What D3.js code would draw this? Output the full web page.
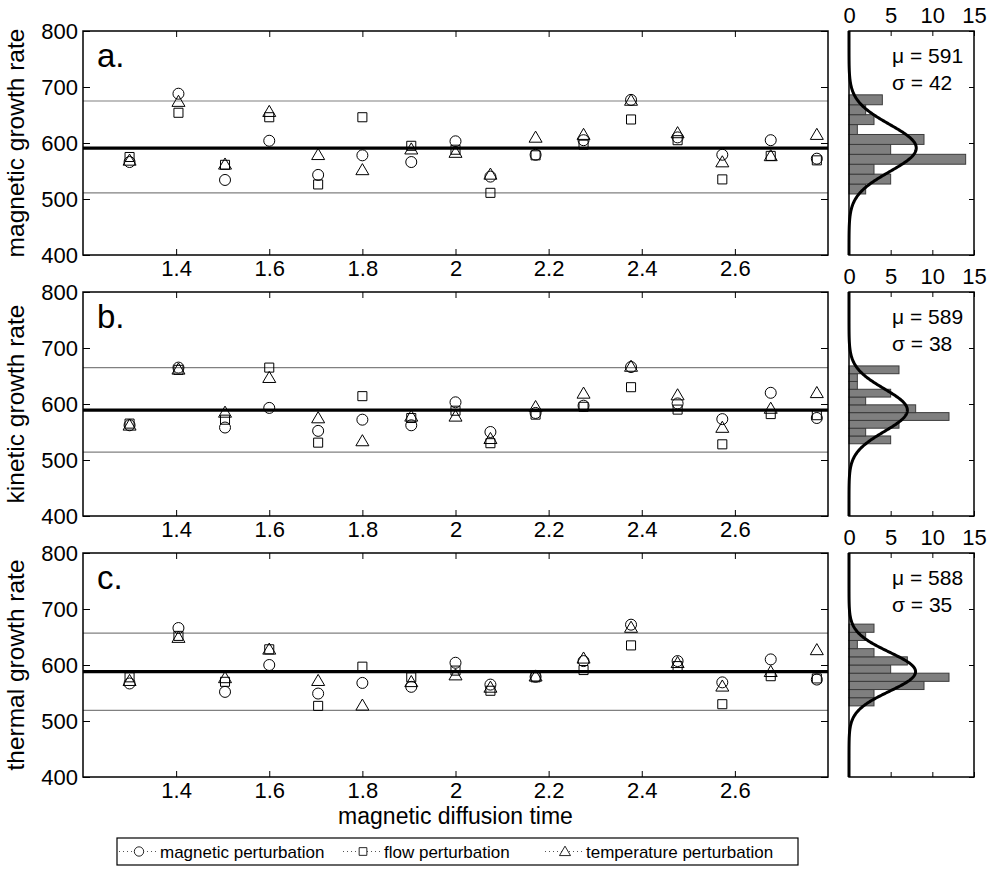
<!DOCTYPE html>
<html>
<head>
<meta charset="utf-8">
<script src="https://cdn.jsdelivr.net/npm/d3@7"></script>
<style>
  body { margin: 0; background: #fff; }
  text { font-family: "Liberation Sans", Arial, Helvetica, sans-serif; fill: #000; }
</style>
</head>
<body>
<svg id="chart" width="990" height="882"></svg>
<script>
// x positions (magnetic diffusion time)
const diffusionTime = [1.3, 1.405, 1.505, 1.6, 1.705, 1.8, 1.905, 2.0, 2.075, 2.172, 2.275, 2.377, 2.477, 2.573, 2.677, 2.776];

// a. magnetic growth rate
const aMagnetic    = [566, 688, 534, 604, 543, 578, 566, 603, 540, 579, 605, 677, 610, 579, 605, 572];
const aFlow        = [575, 654, 561, 646, 526, 646, 595, 588, 511, 578, 597, 642, 605, 535, 577, 569];
const aTemperature = [569, 674, 562, 656, 579, 552, 589, 583, 544, 610, 615, 676, 618, 566, 577, 615];

// b. kinetic growth rate
const bMagnetic    = [562, 665, 558, 593, 552, 572, 562, 603, 550, 584, 597, 666, 601, 573, 620, 575];
const bFlow        = [565, 661, 572, 665, 531, 614, 575, 588, 530, 581, 595, 630, 590, 528, 582, 580];
const bTemperature = [562, 662, 585, 647, 575, 534, 578, 578, 538, 595, 619, 667, 616, 558, 592, 620];

// c. thermal growth rate
const cMagnetic    = [567, 666, 552, 600, 549, 568, 561, 604, 565, 579, 607, 672, 607, 569, 610, 574];
const cFlow        = [578, 652, 570, 628, 527, 597, 578, 590, 554, 578, 591, 635, 598, 530, 580, 576];
const cTemperature = [572, 649, 577, 628, 572, 528, 570, 582, 560, 580, 612, 667, 604, 562, 588, 627];

// fitted statistics shown on the histograms
const mu = [591, 589, 588];
const sigma = [42, 38, 35];
const bandHigh = [675, 665, 657];
const bandLow = [511, 514, 519];

// histogram counts, lowest bin first, and the range the 10 bins span
const aCounts = [2, 5, 3, 14, 5, 9, 1, 3, 2, 4];
const bCounts = [5, 2, 6, 12, 8, 2, 5, 1, 1, 6];
const cCounts = [3, 3, 9, 12, 5, 7, 3, 1, 2, 3];
const histRange = [[509, 686], [529, 668], [527, 673]];

const yTicks = [400, 500, 600, 700, 800];
const xTicks = [1.4, 1.6, 1.8, 2, 2.2, 2.4, 2.6];
const countTicks = [0, 5, 10, 15];

const panelLetters = ["a.", "b.", "c."];
const yLabels = ["magnetic growth rate", "kinetic growth rate", "thermal growth rate"];
const seriesNames = ["magnetic perturbation", "flow perturbation", "temperature perturbation"];

const panels = [
  { series: [aMagnetic, aFlow, aTemperature], counts: aCounts },
  { series: [bMagnetic, bFlow, bTemperature], counts: bCounts },
  { series: [cMagnetic, cFlow, cTemperature], counts: cCounts }
];

// layout
const mainLeft = 83, mainRight = 828;
const histLeft = 849, histRight = 974;
const panelTop = [31, 292, 553];
const panelH = 224;
const tickFont = 22;

const svg = d3.select("#chart");

const x = d3.scaleLinear().domain([1.2, 2.8]).range([mainLeft, mainRight]);
const xc = d3.scaleLinear().domain([0, 15]).range([histLeft, histRight]);

// marker shapes: circle, square, triangle (hollow)
const markerPath = [
  d3.symbol(d3.symbolCircle, 95)(),
  d3.symbol(d3.symbolSquare, 82)(),
  "M0,-6.3L6.5,4.8L-6.5,4.8Z"
];

function styleAxis(g) {
  g.select(".domain").remove();
  g.selectAll(".tick line").attr("stroke", "#000").attr("stroke-width", 1);
  g.selectAll(".tick text").attr("font-size", tickFont).attr("fill", "#000")
    .style("font-family", '"Liberation Sans", Arial, sans-serif');
}

panels.forEach(function (p, i) {
  const top = panelTop[i];
  const y = d3.scaleLinear().domain([400, 800]).range([top + panelH, top]);
  const g = svg.append("g").attr("class", "panel");

  // reference lines
  [bandHigh[i], bandLow[i]].forEach(function (v) {
    g.append("line")
      .attr("x1", mainLeft).attr("x2", mainRight)
      .attr("y1", y(v)).attr("y2", y(v))
      .attr("stroke", "#808080").attr("stroke-width", 1.2);
  });
  g.append("line")
    .attr("x1", mainLeft).attr("x2", mainRight)
    .attr("y1", y(mu[i])).attr("y2", y(mu[i]))
    .attr("stroke", "#000").attr("stroke-width", 3.2);

  // scatter markers
  p.series.forEach(function (vals, s) {
    g.append("g").selectAll("path")
      .data(vals)
      .enter()
      .append("path")
      .attr("d", markerPath[s])
      .attr("transform", function (d, k) {
        return "translate(" + x(diffusionTime[k]) + "," + y(d) + ")";
      })
      .attr("fill", "none")
      .attr("stroke", "#000")
      .attr("stroke-width", 1);
  });

  // axes of the main plot (ticks point inward)
  g.append("g").attr("transform", "translate(0," + (top + panelH) + ")")
    .call(d3.axisBottom(x).tickValues(xTicks).tickFormat(d3.format("")).tickSizeInner(-6).tickSizeOuter(0).tickPadding(5))
    .call(styleAxis);
  g.append("g").attr("transform", "translate(0," + top + ")")
    .call(d3.axisTop(x).tickValues(xTicks).tickFormat("").tickSizeInner(-6).tickSizeOuter(0))
    .call(styleAxis);
  g.append("g").attr("transform", "translate(" + mainLeft + ",0)")
    .call(d3.axisLeft(y).tickValues(yTicks).tickSizeInner(-7).tickSizeOuter(0).tickPadding(5))
    .call(styleAxis);
  g.append("g").attr("transform", "translate(" + mainRight + ",0)")
    .call(d3.axisRight(y).tickValues(yTicks).tickFormat("").tickSizeInner(-7).tickSizeOuter(0))
    .call(styleAxis);

  g.append("rect")
    .attr("x", mainLeft).attr("y", top)
    .attr("width", mainRight - mainLeft).attr("height", panelH)
    .attr("fill", "none").attr("stroke", "#000").attr("stroke-width", 1.5);

  g.append("text")
    .attr("x", 97).attr("y", top + 36)
    .attr("font-size", 33)
    .text(panelLetters[i]);

  g.append("text")
    .attr("transform", "translate(24," + (top + panelH / 2) + ") rotate(-90)")
    .attr("text-anchor", "middle")
    .attr("font-size", 24.5)
    .text(yLabels[i]);

  // histogram panel
  const h = svg.append("g").attr("class", "hist");
  const lo = histRange[i][0], hi = histRange[i][1];
  const binW = (hi - lo) / p.counts.length;
  const total = d3.sum(p.counts);

  h.selectAll("rect.bar")
    .data(p.counts)
    .enter()
    .append("rect")
    .attr("class", "bar")
    .attr("x", xc(0))
    .attr("y", function (d, k) { return y(lo + (k + 1) * binW); })
    .attr("width", function (d) { return xc(d) - xc(0); })
    .attr("height", function (d, k) { return y(lo + k * binW) - y(lo + (k + 1) * binW); })
    .attr("fill", "#7f7f7f")
    .attr("stroke", "#3c3c3c")
    .attr("stroke-width", 1);

  // fitted normal curve scaled to the histogram
  const curve = d3.range(400, 800.5, 1).map(function (v) {
    const z = (v - mu[i]) / sigma[i];
    return [total * binW * Math.exp(-0.5 * z * z) / (sigma[i] * Math.sqrt(2 * Math.PI)), v];
  });
  h.append("path")
    .datum(curve)
    .attr("d", d3.line().x(function (d) { return xc(d[0]); }).y(function (d) { return y(d[1]); }))
    .attr("fill", "none")
    .attr("stroke", "#000")
    .attr("stroke-width", 3);

  h.append("g").attr("transform", "translate(0," + top + ")")
    .call(d3.axisTop(xc).tickValues(countTicks).tickSizeInner(-5).tickSizeOuter(0).tickPadding(8))
    .call(styleAxis);
  h.append("g").attr("transform", "translate(0," + (top + panelH) + ")")
    .call(d3.axisBottom(xc).tickValues(countTicks).tickFormat("").tickSizeInner(-5).tickSizeOuter(0))
    .call(styleAxis);
  h.append("g").attr("transform", "translate(" + histRight + ",0)")
    .call(d3.axisRight(y).tickValues(yTicks).tickFormat("").tickSizeInner(-5).tickSizeOuter(0))
    .call(styleAxis);

  h.append("rect")
    .attr("x", histLeft).attr("y", top)
    .attr("width", histRight - histLeft).attr("height", panelH)
    .attr("fill", "none").attr("stroke", "#000").attr("stroke-width", 1.5);

  h.append("text")
    .attr("x", 892).attr("y", top + 32)
    .attr("font-size", 21)
    .text("\u03bc = " + mu[i]);
  h.append("text")
    .attr("x", 892).attr("y", top + 59)
    .attr("font-size", 21)
    .text("\u03c3 = " + sigma[i]);
});

// x axis title
svg.append("text")
  .attr("x", (mainLeft + mainRight) / 2)
  .attr("y", 824)
  .attr("text-anchor", "middle")
  .attr("font-size", 23)
  .text("magnetic diffusion time");

// legend
const legend = svg.append("g");
legend.append("rect")
  .attr("x", 117).attr("y", 838)
  .attr("width", 681).attr("height", 27)
  .attr("fill", "#fff").attr("stroke", "#000").attr("stroke-width", 1.2);
const legendX = [139, 363, 565];
seriesNames.forEach(function (name, s) {
  const cx = legendX[s];
  legend.append("line")
    .attr("x1", cx - 20).attr("x2", cx + 20)
    .attr("y1", 851.5).attr("y2", 851.5)
    .attr("stroke", "#555").attr("stroke-width", 1)
    .attr("stroke-dasharray", "1,3");
  legend.append("path")
    .attr("d", markerPath[s])
    .attr("transform", "translate(" + cx + ",851.5) scale(0.85)")
    .attr("fill", "#fff").attr("stroke", "#000").attr("stroke-width", 1);
  legend.append("text")
    .attr("x", cx + 21).attr("y", 858)
    .attr("font-size", 17)
    .text(name);
});
</script>
</body>
</html>
